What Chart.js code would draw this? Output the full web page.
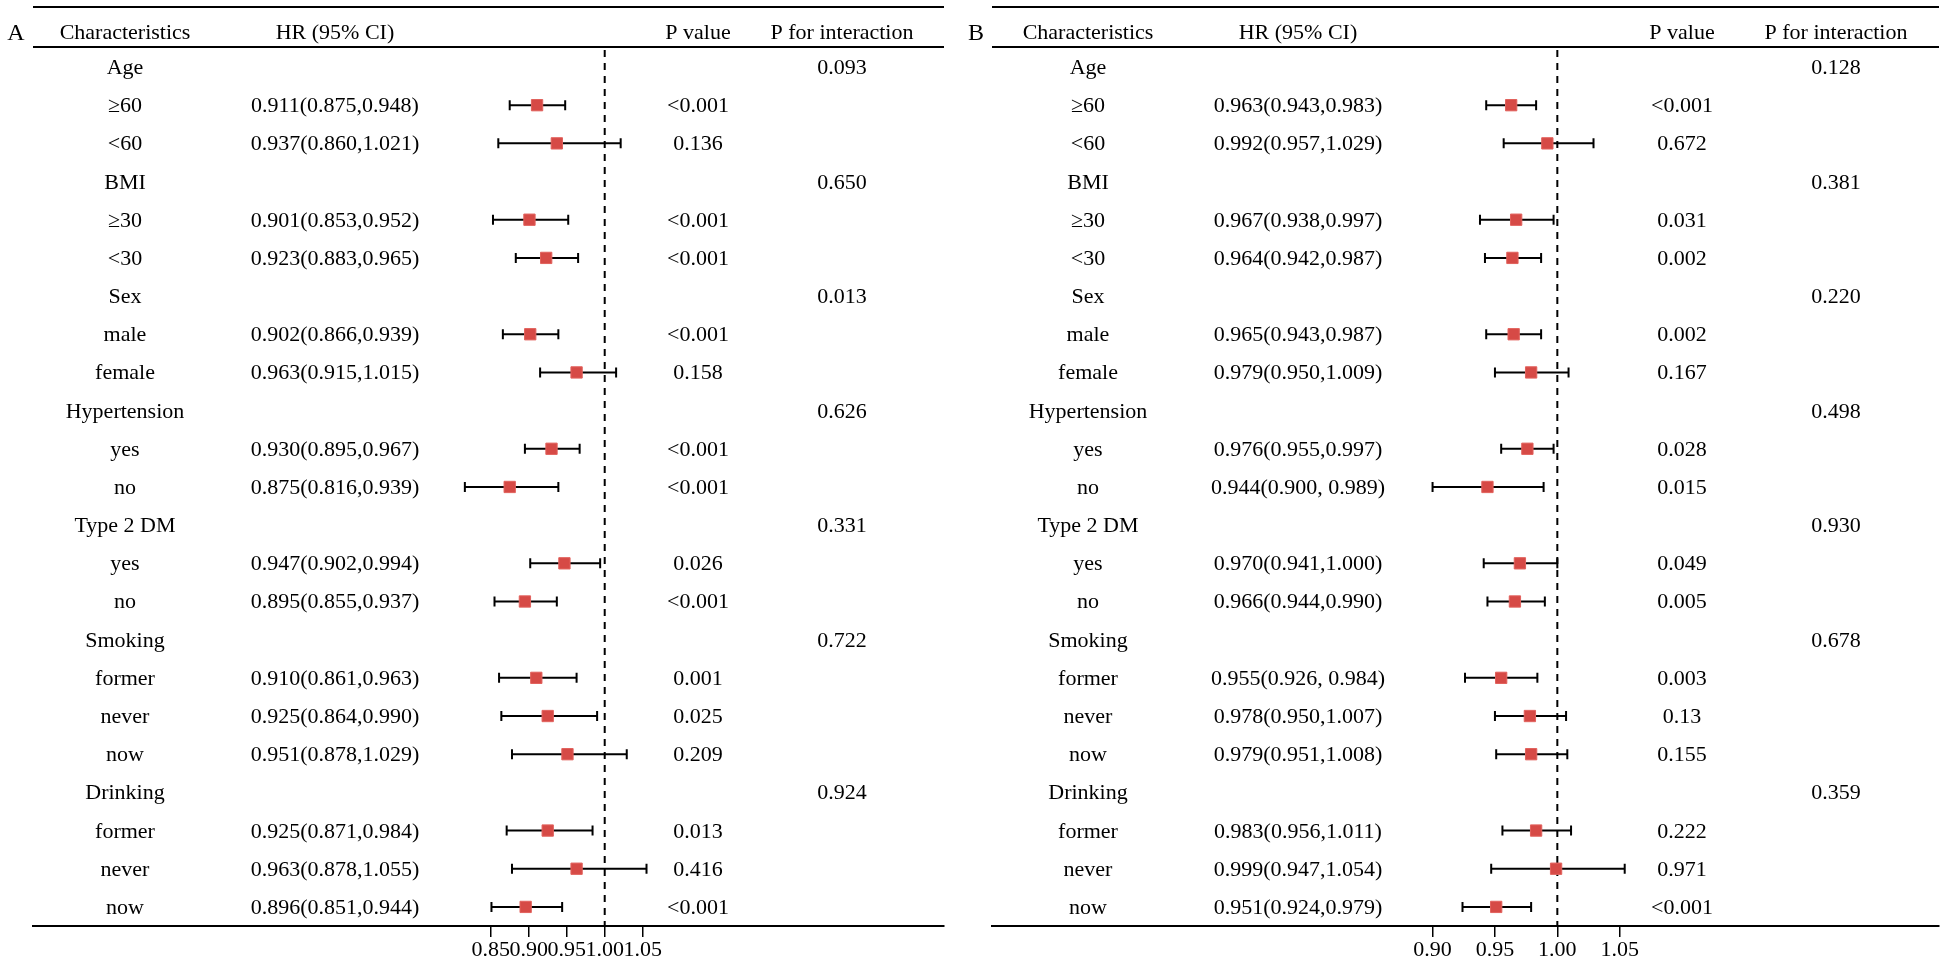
<!DOCTYPE html>
<html lang="en">
<head>
  <meta charset="UTF-8">
  <title>Subgroup forest plots</title>
  <script src="https://cdn.jsdelivr.net/npm/chart.js@4/dist/chart.umd.min.js"></script>
  <style>
    body {
      margin: 0;
      padding: 0;
      background-color: #ffffff;
    }
    .panel {
      position: absolute;
      top: 0;
      height: 958px;
    }
  </style>
</head>
<body>

  <div class="panel" style="left:0; width:960px;"><canvas id="chartA"></canvas></div>
  <div class="panel" style="left:960px; width:988px;"><canvas id="chartB"></canvas></div>

  <script>
    // Rows (same for both panels)
    const rowLabels = ['Age', '≥60', '<60', 'BMI', '≥30', '<30', 'Sex', 'male', 'female',
      'Hypertension', 'yes', 'no', 'Type 2 DM', 'yes', 'no', 'Smoking', 'former', 'never', 'now',
      'Drinking', 'former', 'never', 'now'];

    // Panel A
    const hrA   = [null, 0.911, 0.937, null, 0.901, 0.923, null, 0.902, 0.963, null, 0.930, 0.875, null, 0.947, 0.895, null, 0.910, 0.925, 0.951, null, 0.925, 0.963, 0.896];
    const lowA  = [null, 0.875, 0.860, null, 0.853, 0.883, null, 0.866, 0.915, null, 0.895, 0.816, null, 0.902, 0.855, null, 0.861, 0.864, 0.878, null, 0.871, 0.878, 0.851];
    const highA = [null, 0.948, 1.021, null, 0.952, 0.965, null, 0.939, 1.015, null, 0.967, 0.939, null, 0.994, 0.937, null, 0.963, 0.990, 1.029, null, 0.984, 1.055, 0.944];
    const hrTextA = ['', '0.911(0.875,0.948)', '0.937(0.860,1.021)', '', '0.901(0.853,0.952)', '0.923(0.883,0.965)', '',
      '0.902(0.866,0.939)', '0.963(0.915,1.015)', '', '0.930(0.895,0.967)', '0.875(0.816,0.939)', '',
      '0.947(0.902,0.994)', '0.895(0.855,0.937)', '', '0.910(0.861,0.963)', '0.925(0.864,0.990)', '0.951(0.878,1.029)', '',
      '0.925(0.871,0.984)', '0.963(0.878,1.055)', '0.896(0.851,0.944)'];
    const pA   = ['', '<0.001', '0.136', '', '<0.001', '<0.001', '', '<0.001', '0.158', '', '<0.001', '<0.001', '', '0.026', '<0.001', '', '0.001', '0.025', '0.209', '', '0.013', '0.416', '<0.001'];
    const intA = ['0.093', '', '', '0.650', '', '', '0.013', '', '', '0.626', '', '', '0.331', '', '', '0.722', '', '', '', '0.924', '', '', ''];
    const tickValsA   = [0.85, 0.90, 0.95, 1.00, 1.05];
    const tickLabelsA = ['0.85', '0.90', '0.95', '1.00', '1.05'];

    // Panel B
    const hrB   = [null, 0.963, 0.992, null, 0.967, 0.964, null, 0.965, 0.979, null, 0.976, 0.944, null, 0.970, 0.966, null, 0.955, 0.978, 0.979, null, 0.983, 0.999, 0.951];
    const lowB  = [null, 0.943, 0.957, null, 0.938, 0.942, null, 0.943, 0.950, null, 0.955, 0.900, null, 0.941, 0.944, null, 0.926, 0.950, 0.951, null, 0.956, 0.947, 0.924];
    const highB = [null, 0.983, 1.029, null, 0.997, 0.987, null, 0.987, 1.009, null, 0.997, 0.989, null, 1.000, 0.990, null, 0.984, 1.007, 1.008, null, 1.011, 1.054, 0.979];
    const hrTextB = ['', '0.963(0.943,0.983)', '0.992(0.957,1.029)', '', '0.967(0.938,0.997)', '0.964(0.942,0.987)', '',
      '0.965(0.943,0.987)', '0.979(0.950,1.009)', '', '0.976(0.955,0.997)', '0.944(0.900, 0.989)', '',
      '0.970(0.941,1.000)', '0.966(0.944,0.990)', '', '0.955(0.926, 0.984)', '0.978(0.950,1.007)', '0.979(0.951,1.008)', '',
      '0.983(0.956,1.011)', '0.999(0.947,1.054)', '0.951(0.924,0.979)'];
    const pB   = ['', '<0.001', '0.672', '', '0.031', '0.002', '', '0.002', '0.167', '', '0.028', '0.015', '', '0.049', '0.005', '', '0.003', '0.13', '0.155', '', '0.222', '0.971', '<0.001'];
    const intB = ['0.128', '', '', '0.381', '', '', '0.220', '', '', '0.498', '', '', '0.930', '', '', '0.678', '', '', '', '0.359', '', '', ''];
    const tickValsB   = [0.90, 0.95, 1.00, 1.05];
    const tickLabelsB = ['0.90', '0.95', '1.00', '1.05'];

    const FONT = "'Liberation Serif', 'Times New Roman', serif";

    function makePanel(id, p) {
      const points = [];
      p.hr.forEach((v, i) => { if (v !== null) points.push({ x: v, y: i }); });

      // whiskers, dashed line at 1, and all the table text
      const forestPlugin = {
        id: 'forest',
        beforeDatasetsDraw(chart) {
          const ctx = chart.ctx;
          const xs = chart.scales.x, ys = chart.scales.y;
          const area = chart.chartArea;
          ctx.save();
          // reference line at HR = 1
          const x1 = xs.getPixelForValue(1);
          ctx.strokeStyle = '#000';
          ctx.lineWidth = 2;
          ctx.setLineDash([7, 6]);
          ctx.beginPath();
          ctx.moveTo(x1, area.top + 3);
          ctx.lineTo(x1, area.bottom);
          ctx.stroke();
          ctx.setLineDash([]);
          // confidence intervals
          ctx.lineWidth = 2;
          p.hr.forEach((v, i) => {
            if (v === null) return;
            const y = ys.getPixelForValue(i);
            const a = xs.getPixelForValue(p.low[i]);
            const b = xs.getPixelForValue(p.high[i]);
            ctx.beginPath();
            ctx.moveTo(a, y); ctx.lineTo(b, y);
            ctx.moveTo(a, y - 5); ctx.lineTo(a, y + 5);
            ctx.moveTo(b, y - 5); ctx.lineTo(b, y + 5);
            ctx.stroke();
          });
          ctx.restore();
        },
        afterDraw(chart) {
          const ctx = chart.ctx;
          const ys = chart.scales.y;
          const area = chart.chartArea;
          ctx.save();
          // top rule and header rule
          ctx.strokeStyle = '#000';
          ctx.lineWidth = 2;
          ctx.beginPath();
          ctx.moveTo(area.left, 7); ctx.lineTo(area.right, 7);
          ctx.moveTo(area.left, area.top); ctx.lineTo(area.right, area.top);
          ctx.stroke();

          ctx.fillStyle = '#000';
          ctx.textBaseline = 'alphabetic';
          ctx.textAlign = 'center';
          ctx.font = '24px ' + FONT;
          ctx.fillText(p.letter, 16, 40);

          ctx.font = '22px ' + FONT;
          ctx.fillText('Characteristics', p.cols[0], 39);
          ctx.fillText('HR (95% CI)', p.cols[1], 39);
          ctx.fillText('P value', p.cols[2], 39);
          ctx.fillText('P for interaction', p.cols[3], 39);

          rowLabels.forEach((lab, i) => {
            const y = ys.getPixelForValue(i) + 7;
            ctx.fillText(lab, p.cols[0], y);
            if (p.hrText[i]) ctx.fillText(p.hrText[i], p.cols[1], y);
            if (p.pval[i]) ctx.fillText(p.pval[i], p.cols[2], y);
            if (p.inter[i]) ctx.fillText(p.inter[i], p.cols[3], y);
          });
          ctx.restore();
        }
      };

      return new Chart(document.getElementById(id), {
        type: 'scatter',
        data: {
          datasets: [{
            data: points,
            pointStyle: 'rect',
            pointRadius: 8,
            pointHoverRadius: 8,
            backgroundColor: '#d64a46',
            borderColor: '#e2625d',
            borderWidth: 1
          }]
        },
        options: {
          responsive: true,
          maintainAspectRatio: false,
          animation: false,
          layout: { padding: p.padding },
          plugins: { legend: { display: false }, tooltip: { enabled: false } },
          scales: {
            x: {
              type: 'linear',
              min: p.min,
              max: p.max,
              afterBuildTicks: (scale) => { scale.ticks = p.tickVals.map(v => ({ value: v })); },
              afterFit: (scale) => { scale.height = 32; },
              ticks: {
                autoSkip: false,
                maxRotation: 0,
                minRotation: 0,
                padding: 0,
                color: '#000',
                font: { family: FONT, size: 22 },
                callback: (val, i) => p.tickLabels[i]
              },
              grid: { display: true, drawOnChartArea: false, drawTicks: true, tickLength: 11, color: '#000', lineWidth: 1.5 },
              border: { display: true, color: '#000', width: 2 }
            },
            y: {
              type: 'linear',
              display: false,
              reverse: true,
              min: -0.524,
              max: 22.5
            }
          }
        },
        plugins: [forestPlugin]
      });
    }

    makePanel('chartA', {
      letter: 'A',
      hr: hrA, low: lowA, high: highA, hrText: hrTextA, pval: pA, inter: intA,
      tickVals: tickValsA, tickLabels: tickLabelsA,
      min: 0.2478, max: 1.4464,
      padding: { left: 33, right: 16, top: 47, bottom: 0 },
      cols: [125, 335, 698, 842]
    });

    makePanel('chartB', {
      letter: 'B',
      hr: hrB, low: lowB, high: highB, hrText: hrTextB, pval: pB, inter: intB,
      tickVals: tickValsB, tickLabels: tickLabelsB,
      min: 0.5469, max: 1.3059,
      padding: { left: 32, right: 5, top: 47, bottom: 0 },
      cols: [128, 338, 722, 876]
    });
  </script>

</body>
</html>
